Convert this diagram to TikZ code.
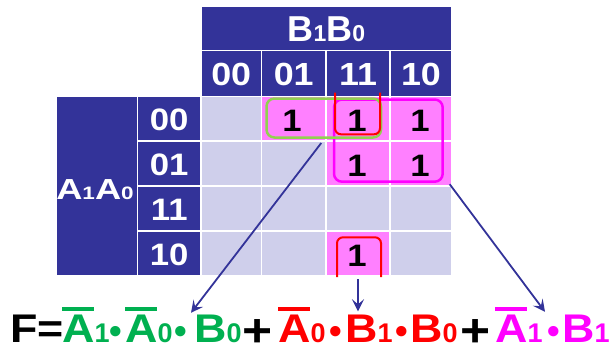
\documentclass[tikz,border=0pt]{standalone}
\usepackage{fontspec}
\setmainfont{Liberation Sans}[FakeStretch=1.12]
\newfontfamily\plainsans{Liberation Sans}
\usetikzlibrary{arrows.meta}
\definecolor{kmnavy}{HTML}{333399}
\definecolor{kmgray}{HTML}{CFCFEB}
\definecolor{kmpink}{HTML}{FF80FF}
\definecolor{kmlime}{HTML}{92D050}
\definecolor{kmgreen}{HTML}{00B050}
\definecolor{kmmag}{HTML}{FF00FF}
\definecolor{kmred}{HTML}{FF0000}
\newcommand{\dig}[2]{{\fontsize{#1}{#1}\selectfont #2}}
\newcommand{\sdig}[1]{{\plainsans\fontsize{27}{27}\selectfont #1}}
\newcommand{\fs}[1]{\bfseries\fontsize{#1}{#1}\selectfont}
\tikzset{
  hdrbox/.style={fill=kmnavy, draw=white, line width=1.5pt},
  mapcell/.style={fill=kmgray, draw=white, line width=1.5pt},
  hotcell/.style={fill=kmpink, draw=white, line width=1.5pt},
  hdrtext/.style={text=white, anchor=base, inner sep=0pt},
  one/.style={anchor=base, inner sep=0pt, font=\fs{31}},
  loopbox/.style={rounded corners=8pt, line width=2.5pt, inner sep=0pt, outer sep=0pt},
  uloop/.style={draw=kmred, rounded corners=6pt, line width=2pt},
  arr/.style={-{Stealth[length=12pt,width=12pt,inset=5pt]}, kmnavy, line width=1.8pt},
  term/.style={anchor=base west, inner sep=0pt, font=\fs{40}},
  op/.style={anchor=base, inner sep=0pt},
  andop/.style={anchor=base, inner sep=0pt, font=\plainsans\fs{36}},
  negbar/.style={line width=3.5pt},
}

\begin{document}
\begin{tikzpicture}[x=1pt,y=-1pt]
	\useasboundingbox (0,0) rectangle (616,349);
	% column headers
	\draw[hdrbox] (201,6) rectangle (452,50.5);
	\node[hdrtext, font=\plainsans\fs{36}] (btitle) at (326.4,41.7) {B\dig{23}{1}B\dig{23}{0}};
	\foreach \xa/\xb/\lab [count=\i] in {201/261.5/00, 261.5/326/01, 326/390/11, 390/452/10}{
		\draw[hdrbox] (\xa,50.5) rectangle (\xb,96.5);
		\node[hdrtext, font=\fs{32}] (col\i) at ({(\xa+\xb)/2},85) {\lab};
	}
	% row headers
	\draw[hdrbox] (56,96.5) rectangle (137.5,276);
	\node[hdrtext, font=\plainsans\fs{29}] (atitle) at (95,199.5) {\scalebox{1.25}[1]{A\dig{18}{1}A\dig{18}{0}}};
	\foreach \ya/\yb/\lab [count=\j] in {96.5/141/00, 141/186/01, 186/231/11, 231/276/10}{
		\draw[hdrbox] (137.5,\ya) rectangle (201,\yb);
		\node[hdrtext, font=\fs{31}] (row\j) at (169.25,\yb-10.3) {\lab};
		\foreach \xa/\xb in {201/261.5, 261.5/326, 326/390, 390/452}
			\draw[mapcell] (\xa,\ya) rectangle (\xb,\yb);
	}
	% cells holding a 1
	\foreach \xa/\xb/\ya/\yb in {261.5/326/96.5/141, 326/390/96.5/141, 390/452/96.5/141,
		326/390/141/186, 390/452/141/186, 326/390/231/276}
		\draw[hotcell] (\xa,\ya) rectangle (\xb,\yb);
	\node[one] (m0001) at (292,131.7) {1};
	\node[one] (m0011) at (357,131.7) {1};
	\node[one] (m0010) at (420,131.7) {1};
	\node[one] (m0111) at (357,176.5) {1};
	\node[one] (m0110) at (420,176.5) {1};
	\node[one] (m1011) at (357,266.5) {1};
	% loops
	\node[loopbox, draw=kmmag, minimum width=108.7pt, minimum height=82.2pt] (mloop) at (388.35,140.6) {};
	\node[loopbox, draw=kmlime, minimum width=114.5pt, minimum height=39pt] (gloop) at (323.75,118) {};
	\draw[uloop] (335,92.5) -- (335,134.3) -- (380,134.3) -- (380,92.5);
	\draw[uloop] (337,277) -- (337,237.3) -- (381,237.3) -- (381,277);
	% the sum of products
	\node[term] (fdef) at (10,342) {F=};
	\node[term, text=kmgreen] (gA1) at (62,342) {A\sdig{1}};
	\node[andop, text=kmgreen] (gd1) at (116,343) {•};
	\node[term, text=kmgreen] (gA0) at (125,342) {A\sdig{0}};
	\node[andop, text=kmgreen] (gd2) at (181,343) {•};
	\node[term, text=kmgreen] (gB0) at (194,342) {B\sdig{0}};
	\node[op, font=\fs{46}] (plus1) at (258,346) {+};
	\node[term, text=kmred] (rA0) at (278,342) {A\sdig{0}};
	\node[andop, text=kmred] (rd1) at (336,343) {•};
	\node[term, text=kmred] (rB1) at (345,342) {B\sdig{1}};
	\node[andop, text=kmred] (rd2) at (402,343) {•};
	\node[term, text=kmred] (rB0) at (410,342) {B\sdig{0}};
	\node[op, font=\fs{46}] (plus2) at (476,346) {+};
	\node[term, text=kmmag] (mA1) at (495,342) {A\sdig{1}};
	\node[andop, text=kmmag] (md1) at (554,343) {•};
	\node[term, text=kmmag] (mB1) at (562,342) {B\sdig{1}};
	\draw[negbar, kmgreen] ([yshift=5.4pt]gA1.north west) -- ++(32,0);
	\draw[negbar, kmgreen] ([yshift=5.4pt]gA0.north west) -- ++(32,0);
	\draw[negbar, kmred] ([yshift=5.4pt]rA0.north west) -- ++(32,0);
	\draw[negbar, kmmag] ([yshift=5.4pt]mA1.north west) -- ++(32,0);
	% loops to terms
	\draw[arr] ([xshift=-2.5pt,yshift=-5.5pt]gloop.south) -- ([xshift=-3pt,yshift=1.5pt]gB0.north west);
	\coordinate (rfoot) at (358,279);
	\draw[arr] (rfoot) -- ([xshift=13pt,yshift=3pt]rB1.north west);
	\draw[arr] ([xshift=7pt,yshift=-2.5pt]mloop.south east) -- ([xshift=-17pt,yshift=2.5pt]mB1.north west);
\end{tikzpicture}
\end{document}
